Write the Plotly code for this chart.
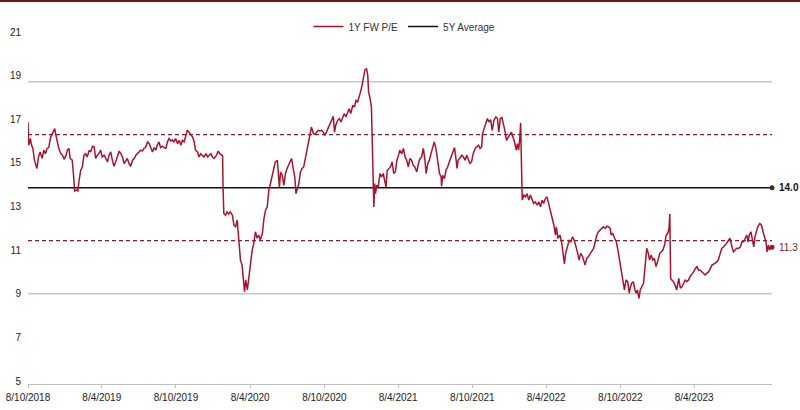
import pandas as pd
import plotly.graph_objects as go

# ---------------- data ----------------
START_DATE = "2018-10-08"

days_from_start = [
    0, 2, 6, 8, 12, 16, 22, 26, 30, 35, 39, 43, 47, 51, 56, 62, 66, 68, 72, 76,
    81, 85, 89, 94, 97, 101, 104, 109, 112, 115, 119, 123, 126, 130, 134, 138, 142, 146, 151, 155,
    159, 163, 167, 171, 175, 179, 183, 188, 192, 196, 200, 204, 208, 212, 216, 220, 225, 229, 233, 237,
    241, 245, 249, 253, 258, 262, 266, 270, 274, 278, 282, 286, 290, 295, 299, 303, 307, 311, 315, 319,
    323, 327, 332, 336, 340, 344, 348, 352, 356, 360, 364, 369, 373, 377, 381, 385, 389, 393, 397, 402,
    406, 410, 413, 418, 422, 426, 430, 434, 439, 443, 447, 451, 455, 459,
    465, 469, 473, 477, 480, 481, 483, 487, 491, 495, 499, 504, 508, 512, 516, 520, 524, 528, 531, 534,
    537, 541, 545, 549, 553, 557, 561, 565, 569, 573, 578, 582, 586, 590, 594, 598, 602, 606, 610, 615,
    617, 620, 623, 627, 631, 635, 639, 643, 647, 650, 654, 658, 661, 664, 668, 672, 676, 680, 685, 689,
    693, 697, 699, 704, 708, 712, 716, 720, 724, 728, 732, 736, 741, 745, 749, 753, 756, 759, 764, 768,
    772, 776, 780, 784, 788, 792, 796, 801, 805, 809, 813, 817, 820, 824, 829, 831, 835, 838, 840, 843,
    847, 849, 852, 853, 855, 857, 860, 864, 868, 872, 876, 880, 883, 886, 890, 894, 898, 902, 906, 910,
    915,
    917, 922, 926, 930, 934, 938, 942, 946, 950, 954, 959, 963, 967, 971, 975, 979, 982, 986, 990, 994,
    998, 1002, 1006, 1010, 1015, 1019, 1020, 1023, 1027, 1031, 1035, 1039, 1043, 1047, 1052, 1056, 1058, 1061, 1066, 1070,
    1074, 1078, 1082, 1086, 1090, 1094, 1098, 1103, 1107, 1111, 1115, 1119, 1121, 1125, 1129, 1133, 1137, 1141, 1145, 1149,
    1154, 1158, 1161, 1165, 1169, 1173, 1177, 1180, 1184, 1188, 1192, 1196, 1200, 1204, 1207, 1210, 1213, 1215, 1217, 1219,
    1223, 1227, 1231, 1235, 1239, 1243, 1247, 1251, 1256, 1260, 1264, 1268, 1272, 1276, 1280, 1284, 1288, 1293, 1297, 1301,
    1303, 1307, 1312, 1316, 1320, 1323, 1326, 1330, 1335, 1339, 1343, 1347, 1351, 1355, 1359, 1363, 1368, 1372,
    1374, 1378, 1382, 1387, 1391, 1395, 1399, 1403, 1407, 1411, 1415, 1419, 1424, 1428, 1432, 1436, 1438, 1442, 1447, 1451,
    1455, 1459, 1463, 1467, 1471, 1475, 1479, 1483, 1485, 1489, 1493, 1497, 1500, 1503, 1507, 1510, 1514, 1518, 1522, 1526,
    1530, 1533, 1537, 1541, 1545, 1549, 1554, 1558, 1562, 1566, 1570, 1574, 1578, 1581, 1583, 1585, 1588, 1592, 1596, 1600,
    1605, 1609, 1613, 1617, 1621, 1625, 1629, 1633, 1637, 1642, 1646, 1650, 1654, 1658, 1662, 1666, 1670, 1674, 1679, 1683,
    1687, 1691, 1695, 1699, 1703, 1707, 1711, 1716, 1720, 1724, 1728, 1732, 1736, 1740, 1744, 1748, 1753, 1757, 1761, 1765,
    1769, 1773, 1776, 1779, 1783, 1786, 1790, 1793, 1796, 1800, 1805, 1809, 1813, 1817, 1820, 1823, 1826, 1829, 1832, 1835,
]

pe_1y_fw = [
    17.0, 15.95, 16.25, 16.0, 15.8, 15.26, 14.88, 15.41, 15.64, 15.34, 15.72, 15.56, 15.8, 15.84, 16.32, 16.55, 16.71, 16.48, 16.1, 15.8,
    15.56, 15.49, 15.3, 15.49, 15.72, 15.8, 15.34, 15.26, 14.65, 13.85, 13.89, 13.85, 14.34, 14.8, 14.95, 15.49, 15.56, 15.41, 15.72, 15.64,
    15.9, 15.87, 15.34, 15.49, 15.56, 15.72, 15.41, 15.49, 15.34, 15.18, 15.49, 15.64, 15.26, 14.98, 15.18, 15.41, 15.68, 15.56, 15.41, 15.11,
    15.26, 15.34, 15.11, 14.98, 15.26, 15.34, 15.49, 15.56, 15.64, 15.72, 15.68, 15.8, 15.84, 16.1, 16.02, 15.8, 15.64, 15.84, 15.72, 15.95,
    16.1, 15.84, 15.9, 15.84, 15.8, 16.1, 16.25, 16.14, 16.2, 16.1, 16.25, 16.02, 16.17, 15.95, 16.17, 16.1, 16.4, 16.63, 16.55, 16.45,
    16.32, 16.1, 15.72, 15.64, 15.41, 15.56, 15.49, 15.41, 15.56, 15.41, 15.49, 15.56, 15.41, 15.34,
    15.49, 15.68, 15.56, 15.49, 15.46, 14.04, 12.82, 12.74, 12.89, 12.79, 12.89, 12.74, 12.28, 12.21, 12.51, 11.6, 10.68, 10.45, 9.92, 9.23,
    9.77, 9.31, 9.92, 10.68, 11.14, 11.47, 11.98, 11.68, 11.83, 11.6, 11.9, 12.59, 12.97, 13.12, 13.89, 14.19, 14.57, 14.95, 15.18, 15.26,
    14.65, 14.04, 14.72, 14.57, 14.11, 14.65, 14.88, 15.03, 15.18, 15.34, 14.88, 14.49, 13.73, 13.89, 14.19, 14.72, 14.88, 14.95, 15.41, 15.8,
    16.1, 16.55, 16.78, 16.48, 16.45, 16.55, 16.63, 16.6, 16.63, 16.55, 16.4, 16.55, 16.78, 16.94, 17.17, 17.27, 16.55, 16.86, 17.09, 17.17,
    17.01, 17.17, 17.4, 17.24, 17.47, 17.62, 17.4, 17.78, 17.7, 18.0, 17.93, 18.16, 18.38, 18.69, 19.15, 19.41, 19.45, 19.15, 18.38, 18.16,
    17.7, 16.02, 14.19, 13.12, 14.19, 13.73, 14.11, 14.04, 14.65, 14.49, 14.65, 14.34, 14.04, 14.8, 14.88, 14.95, 15.18, 14.65, 14.72, 15.26,
    15.56,
    15.72, 15.56, 15.8, 15.41, 15.26, 14.95, 15.34, 15.26, 15.03, 14.95, 14.72, 15.11, 15.34, 15.41, 15.8, 15.26, 14.65, 15.11, 15.26, 15.56,
    15.87, 16.1, 15.8, 15.26, 14.65, 14.49, 14.07, 14.57, 14.42, 14.8, 14.95, 15.18, 15.41, 15.64, 15.84, 15.26, 14.88, 15.26, 15.41, 15.49,
    15.41, 15.26, 15.49, 15.26, 15.11, 15.18, 15.56, 15.8, 15.87, 15.95, 15.8, 15.87, 16.48, 16.71, 16.86, 17.17, 17.01, 17.12, 16.63, 17.09,
    17.24, 17.17, 16.55, 17.17, 17.21, 16.94, 16.55, 16.17, 16.32, 16.4, 16.55, 16.32, 16.1, 15.72, 16.02, 15.72, 16.25, 16.97, 14.04, 13.43,
    13.66, 13.58, 13.73, 13.43, 13.66, 13.43, 13.28, 13.35, 13.2, 13.35, 13.12, 13.43, 13.28, 13.5, 13.58, 13.28, 12.97, 12.66, 12.28, 11.83,
    12.21, 11.68, 11.83, 11.52, 10.99, 10.5, 10.99, 11.29, 11.6, 11.52, 11.75, 11.6, 11.37, 11.06, 10.68, 10.99, 10.83, 10.53,
    10.45, 10.76, 10.83, 10.99, 11.14, 11.22, 11.52, 11.83, 11.98, 12.05, 12.13, 12.21, 12.13, 12.24, 12.21, 12.13, 11.83, 11.9, 11.68, 11.52,
    11.14, 10.68, 10.22, 9.77, 9.31, 9.77, 9.69, 9.16, 9.39, 9.62, 9.69, 9.31, 9.16, 9.31, 8.93, 9.31, 9.46, 9.62, 10.38, 11.22,
    10.99, 10.68, 10.91, 10.68, 10.76, 10.38, 10.68, 10.99, 11.06, 11.14, 11.37, 11.83, 11.9, 12.13, 12.79, 9.84, 9.77, 9.69, 9.54, 9.31,
    9.84, 9.39, 9.46, 9.62, 9.77, 9.69, 9.77, 9.92, 10.0, 10.15, 10.3, 10.38, 10.22, 10.22, 10.15, 10.07, 10.0, 10.07, 10.15, 10.3,
    10.45, 10.5, 10.56, 10.6, 10.71, 10.99, 11.22, 11.29, 11.37, 11.47, 11.6, 11.68, 11.29, 11.06, 11.14, 11.22, 11.22, 11.29, 11.52, 11.52,
    11.68, 11.83, 11.52, 11.83, 11.98, 11.6, 11.29, 11.75, 11.98, 12.21, 12.36, 12.28, 11.98, 11.68, 11.52, 11.06, 11.37, 11.14, 11.29, 11.27,
]

AVG_5Y = 14.0
SD_5Y = 2.43

tick_dates = ["2018-10-08", "2019-04-08", "2019-10-08", "2020-04-08", "2020-10-08",
              "2021-04-08", "2021-10-08", "2022-04-08", "2022-10-08", "2023-04-08"]
tick_labels = ["8/10/2018", "8/4/2019", "8/10/2019", "8/4/2020", "8/10/2020",
               "8/4/2021", "8/10/2021", "8/4/2022", "8/10/2022", "8/4/2023"]
y_ticks = [5, 7, 9, 11, 13, 15, 17, 19, 21]

SERIES_NAME = "1Y FW P/E"
AVG_NAME = "5Y Average"

# ---------------- styles ----------------
RED = "#a8142f"
DASH_RED = "#8b1a2a"
GREY = "#c8c8c8"
FONT = "Liberation Sans, Arial, sans-serif"

dates = pd.Timestamp(START_DATE) + pd.to_timedelta(days_from_start, unit="D")
x_span = [dates[0], dates[-1]]

fig = go.Figure()

# +/- 2 sd bands (grey)
for k in (2, -2):
    fig.add_trace(go.Scatter(x=x_span, y=[AVG_5Y + k * SD_5Y] * 2, mode="lines",
                             line=dict(color=GREY, width=1.5), showlegend=False,
                             hoverinfo="skip"))
# +/- 1 sd (dashed)
for k in (1, -1):
    fig.add_trace(go.Scatter(x=x_span, y=[AVG_5Y + k * SD_5Y] * 2, mode="lines",
                             line=dict(color=DASH_RED, width=1.3, dash="4px,3px"),
                             showlegend=False, hoverinfo="skip"))

# average
fig.add_trace(go.Scatter(x=x_span, y=[AVG_5Y] * 2, mode="lines", name=AVG_NAME,
                         line=dict(color="#111111", width=1.5), legendrank=2))
fig.add_trace(go.Scatter(x=[dates[-1]], y=[AVG_5Y], mode="markers",
                         marker=dict(size=5, color="#333333"), showlegend=False,
                         cliponaxis=False))

# series
fig.add_trace(go.Scatter(x=dates, y=pe_1y_fw, mode="lines", name=SERIES_NAME,
                         line=dict(color=RED, width=1.5), legendrank=1))
fig.add_trace(go.Scatter(x=[dates[-1]], y=[pe_1y_fw[-1]], mode="markers",
                         marker=dict(size=5, color=RED), showlegend=False,
                         cliponaxis=False))

fig.add_annotation(x=dates[-1], y=AVG_5Y, text=f"<b>{AVG_5Y:.1f}</b>", showarrow=False,
                   xanchor="left", xshift=5, font=dict(size=10, color="#111111", family=FONT))
fig.add_annotation(x=dates[-1], y=pe_1y_fw[-1], text=f"{pe_1y_fw[-1]:.1f}", showarrow=False,
                   xanchor="left", xshift=5, font=dict(size=10, color=DASH_RED, family=FONT))

# thin dark border line at very top of the image
fig.add_shape(type="line", xref="paper", yref="paper", x0=-0.06, x1=1.06,
              y0=1 + 34 / 349, y1=1 + 34 / 349, line=dict(color="#6e1a1a", width=2))

fig.update_layout(
    width=800, height=410,
    margin=dict(l=28, r=28, t=35, b=26, autoexpand=False),
    paper_bgcolor="white", plot_bgcolor="white",
    font=dict(family=FONT, size=10, color="#333333"),
    showlegend=True,
    legend=dict(orientation="h", x=0.506, xanchor="center", y=1.024, yanchor="middle",
                font=dict(size=10, color="#333333"), itemwidth=30,
                bgcolor="rgba(0,0,0,0)", traceorder="normal"),
    xaxis=dict(range=x_span, tickmode="array", tickvals=tick_dates, ticktext=tick_labels,
               showgrid=False, zeroline=False, showline=True, linecolor="#bfbfbf",
               linewidth=1, ticks="outside", ticklen=3, tickcolor="#bfbfbf",
               tickfont=dict(size=10, color="#222222"), ticklabelstandoff=1,
               automargin=False),
    yaxis=dict(range=[5, 21], tickmode="array", tickvals=y_ticks, showgrid=False,
               zeroline=False, showline=False, ticks="", ticklabelstandoff=6,
               ticklabelshift=-3,
               tickfont=dict(size=10, color="#222222"), automargin=False),
)

fig.write_html("out.html")
